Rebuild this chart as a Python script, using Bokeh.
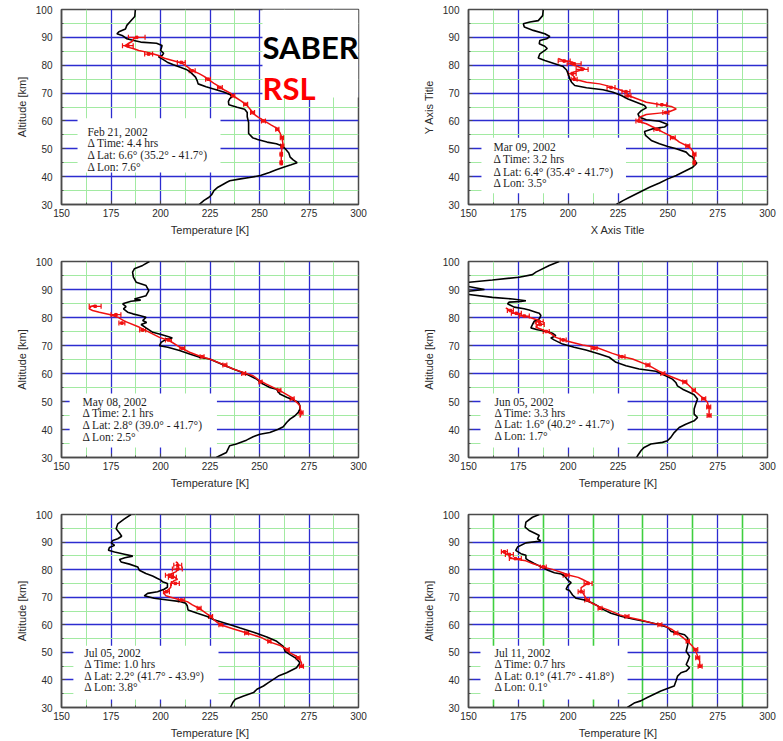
from bokeh.plotting import figure
from bokeh.layouts import column, row
from bokeh.models import FixedTicker, BoxAnnotation, Label, Whisker, ColumnDataSource, TeeHead
from bokeh.embed import file_html
from bokeh.resources import INLINE

# ---------------------------------------------------------------- axes
temp_ticks = [150, 175, 200, 225, 250, 275, 300]
temp_minor = [162.5, 187.5, 212.5, 237.5, 262.5, 287.5]
alt_ticks = [30, 40, 50, 60, 70, 80, 90, 100]
alt_minor = [35, 45, 55, 65, 75, 85, 95]

# ---------------------------------------------------------------- Feb 21, 2002
feb21_saber_alt = [100, 97.5, 95.5, 94.3, 93, 92, 91.3, 90.7, 89.5, 88.9, 88.3, 87.9, 87.1, 86.3, 85.3, 84.3, 83.5, 83,
                   82.2, 81.1, 80.2, 79.3, 78.5, 77.5, 75.7, 74.5, 73.3, 72.3, 71.5, 70.4, 69.5, 68.9, 68, 67, 65.8,
                   64.9, 64.2, 63, 61.5, 59.5, 57.5, 55.5, 54, 53.3, 52.4, 51.8, 51, 50, 48.5, 47, 46, 45, 44.3, 43.5,
                   42.5, 41.5, 40.4, 39.7, 39.2, 38.5, 38, 37.2, 36.2, 35, 33.5, 32.6, 31.5, 30]
feb21_saber_temp = [187.3, 187, 184.5, 183, 182.3, 179, 178, 180.6, 183, 186.5, 190, 198, 200.8, 200.5, 200, 201.6,
                    200.8, 199, 201, 203.4, 206.5, 210, 213, 215.1, 217.7, 218.5, 219, 223, 226.8, 231.9, 235, 236.5,
                    235, 234.3, 234.5, 238.7, 242.5, 243.8, 243.8, 244.5, 244.5, 244.5, 246.5, 249, 253.8, 258.5,
                    261.5, 263, 264.8, 265.5, 267, 269, 266, 262.5, 258.5, 255, 250.5, 245, 240.4, 235, 233.5, 231.5,
                    229, 227, 225.8, 224.5, 222, 219.5]
feb21_rsl_alt = [44, 46, 48, 50, 52, 54, 55.5, 57.2, 58.5, 60.2, 61.3, 62.5, 64, 65.5, 67, 68.5, 70, 71, 72.1, 73.5,
                 74.8, 76, 77, 78.1, 79.2, 80.7, 81.5, 82.5, 83.5, 84.1, 84.7, 85.3, 85.9, 86.5, 87, 87.7, 88.5, 89.5,
                 90]
feb21_rsl_temp = [261, 261, 261, 261.3, 261.8, 261.3, 260.5, 259.1, 256, 252, 249.5, 247, 245.5, 243.7, 241, 237.8,
                  235.3, 232.5, 230.2, 227, 224.3, 222, 219.5, 216, 214, 211, 207, 202, 199, 196, 193, 189, 186.5,
                  183.5, 182, 183.5, 185.6, 186.5, 188]
feb21_bar_alt = [45, 48, 51, 54, 57, 60, 63, 66, 69, 72, 75, 78, 81, 84, 87, 90]
feb21_bar_temp = [261, 261, 261.5, 261.3, 259, 252, 246.5, 243, 236.5, 230, 224, 216, 210.5, 194, 183.5, 188]
feb21_bar_err = [0.6, 0.6, 0.8, 0.8, 0.8, 1, 1, 1, 1, 1.2, 1.2, 1.5, 2, 2, 2.7, 4.2]
feb21_notes = ["Feb 21, 2002", "\u0394 Time: 4.4 hrs", "\u0394 Lat: 6.6\u00b0 (35.2\u00b0 - 41.7\u00b0)",
               "\u0394 Lon: 7.6\u00b0"]

# ---------------------------------------------------------------- Mar 09, 2002
mar09_saber_alt = [100, 97.8, 96, 95.5, 94.9, 93.7, 92.5, 91.3, 90.3, 89.5, 88.9, 87.7, 86.8, 86, 85.3, 84.1, 82.6,
                   81.7, 80.7, 79.5, 78.3, 76.9, 75.1, 73.9, 72.7, 71.9, 71.2, 70.3, 69.1, 67.9, 66.7, 65.5, 64.7,
                   63.7, 62.5, 61.3, 60.4, 59.9, 58.7, 57.8, 57.2, 56.2, 54.8, 53, 51.8, 50.8, 50, 48.8, 47.6, 47,
                   45.8, 44.8, 43.4, 42.2, 40.4, 39.2, 37.7, 36.2, 34.4, 32.6, 31.4, 30]
mar09_saber_temp = [187.5, 187.2, 185, 180.8, 177.5, 178, 182.5, 188.3, 190.8, 189.2, 185.8, 185.5, 188.3, 189.5,
                    188.3, 185.8, 185, 188.3, 192.5, 197.5, 199.2, 200, 200.8, 201.7, 203.3, 209.2, 217.5, 222.5,
                    226.7, 230, 234.2, 238.3, 239.2, 236.7, 235, 235.8, 239.2, 245.8, 250, 248.3, 242.5, 238.3,
                    238.8, 241.7, 245.8, 250, 254.2, 259.2, 260.8, 262.5, 263.3, 264.5, 262.5, 259.2, 254.2, 250,
                    245.8, 240.8, 235.8, 230.8, 227.5, 224.2]
mar09_rsl_alt = [44, 47, 48.2, 50, 50.9, 52.4, 54.2, 56, 57.2, 59, 59.9, 61.3, 62.3, 62.8, 63.1, 64.3, 65.2, 65.9,
                 66.7, 68.5, 69.1, 70.3, 71.2, 72.4, 73.3, 73.9, 74.5, 74.8, 75.7, 76.7, 77.5, 78.1, 78.7, 79.3, 79.9,
                 80.5, 81.1, 81.7, 82.4]
mar09_rsl_temp = [263.3, 263.3, 263.3, 261.7, 260, 255.8, 252.5, 247.5, 244.2, 239.2, 235, 235.8, 239.2, 245.8, 250,
                  254.2, 251.7, 245.8, 239.2, 232.5, 230, 229.2, 225.8, 220.8, 215.8, 209.2, 205.8, 202.5, 203.3,
                  201.7, 202.5, 205.8, 208.3, 205.8, 203.3, 200.8, 202.5, 197.5, 195]
mar09_bar_alt = [45, 48, 51, 54, 57, 60, 63, 65.8, 69, 70.5, 72, 75, 77, 78.5, 80.5, 81.5]
mar09_bar_temp = [263.3, 263.3, 260, 252.5, 244.5, 235.5, 249, 247, 230, 229, 221.5, 203, 202, 207, 203, 198]
mar09_bar_err = [0.6, 0.8, 1, 1.2, 1.5, 1.5, 1.5, 2.5, 1.5, 2, 2, 1.5, 2, 3, 3.5, 3]
mar09_notes = ["Mar 09, 2002", "\u0394 Time: 3.2 hrs", "\u0394 Lat: 6.4\u00b0 (35.4\u00b0 - 41.7\u00b0)",
               "\u0394 Lon: 3.5\u00b0"]

# ---------------------------------------------------------------- May 08, 2002
may08_saber_alt = [100, 98.6, 97.4, 96.2, 94.4, 92.6, 91.4, 89.6, 87.8, 86.6, 86.2, 85.8, 84.9, 83.9, 83.1, 81.9,
                   81.3, 80.7, 80.1, 78.9, 78.2, 77.5, 76.3, 74.7, 73.9, 73.2, 72.7, 72.3, 71.1, 69.9, 69.4, 68.2, 67,
                   65.8, 65.2, 63.4, 61.6, 59.8, 58, 56.2, 55, 54.4, 52.7, 51.5, 50.5, 49.7, 48.5, 47.3, 46.1, 44.9,
                   43.7, 42.5, 41, 40.1, 38.9, 38.3, 37.4, 36.2, 34.8, 34.2, 33, 31.8, 30.6, 30]
may08_saber_temp = [194.4, 191, 186.8, 185.9, 186.3, 187.7, 192.7, 194.1, 192.7, 186.8, 190, 185.1, 180.9, 182.6,
                    181.3, 183.4, 186, 189.4, 192.7, 191, 193, 190.2, 192.7, 196.1, 200.3, 203.7, 206, 202.9, 200.3,
                    199.5, 203.7, 209.6, 214.7, 219.8, 224.8, 230.7, 236.7, 243.4, 248.5, 251.9, 255.2, 258.6,
                    260.3, 263.7, 267.1, 269.6, 270.4, 270.4, 269.6, 267.9, 265.4, 263.7, 262, 259.5, 255.2, 250.2,
                    246.8, 243.4, 238.3, 234.9, 234.1, 233.3, 229.9, 228.2]
may08_rsl_alt = [44.3, 46.1, 47.3, 48.5, 49.7, 51.5, 53.9, 56.2, 57.4, 59.2, 60.4, 61.6, 63, 65.2, 66, 67.6, 69.1,
                 71.7, 72.9, 75.3, 76.5, 78.7, 80.1, 81.1, 81.9, 82.5, 83.1, 83.9, 84.3]
may08_rsl_temp = [270.4, 271.3, 270.6, 270.4, 268.8, 266.2, 260.3, 253.5, 250.2, 246.8, 241.7, 236.7, 232.4, 224.8,
                  220.6, 214.7, 210.5, 204.6, 199.5, 192.7, 189.4, 181.8, 178.4, 174.2, 169.1, 165.7, 164, 164.9,
                  166.6]
may08_bar_alt = [46, 51, 54, 57, 60, 63, 66, 69, 72, 75.5, 78, 81, 84]
may08_bar_temp = [271, 266.5, 260, 250.5, 242, 232.5, 221, 211, 204, 191, 180.5, 177.5, 167]
may08_bar_err = [1, 1, 0.8, 0.8, 1, 1, 1, 1.2, 1.5, 1.5, 1.5, 2.5, 3]
may08_notes = ["May 08, 2002", "\u0394 Time: 2.1 hrs", "\u0394 Lat: 2.8\u00b0 (39.0\u00b0 - 41.7\u00b0)",
               "\u0394 Lon: 2.5\u00b0"]

# ---------------------------------------------------------------- Jun 05, 2002
jun05_saber_alt = [100, 98.6, 96.2, 95.3, 94.4, 93.4, 92.6, 92, 91.1, 90, 89.4, 88.8, 88.2, 87.2, 86.6, 86, 85.7,
                   85.5, 84.9, 83.7, 83.1, 82.7, 81.9, 81.5, 80.7, 79.5, 78.7, 77.5, 76.3, 75.6, 75.1, 74.4, 73.5,
                   72.7, 72, 70.5, 69.4, 68.4, 67, 65.8, 64, 62.8, 61.6, 60.8, 59.2, 58, 56.8, 55.6, 54.4, 53.3,
                   52.4, 50.9, 49.1, 47.3, 45.5, 44.3, 43.1, 41.9, 40.7, 38.9, 37.2, 36, 35.4, 34.8, 33.6, 32.4,
                   30.6, 30]
jun05_saber_temp = [195.5, 190.5, 183.8, 182.1, 175.4, 162, 150.3, 142, 150, 158, 150, 142, 150.3, 162, 172.1, 178.8,
                    176.3, 170.4, 169.6, 172.9, 177.9, 180.4, 183.8, 185.5, 186.3, 185.5, 183, 182.1, 181.3, 184.6,
                    188.8, 192.1, 193.8, 191.3, 192.9, 197.2, 203, 208.9, 215.6, 220.6, 224, 229, 235.6, 244,
                    248.9, 252.3, 254, 254.8, 257.4, 260.7, 263.2, 264.9, 264, 263.2, 263.2, 264.9, 263.2, 259,
                    255.7, 253.2, 251.5, 249.8, 247.3, 241.5, 238.1, 236.5, 234.8, 234.3]
jun05_rsl_alt = [44.3, 47.3, 49.7, 50.9, 53.9, 56.8, 58.5, 60.1, 62.8, 65.2, 66, 67.2, 69.4, 70.2, 71.7, 72.9, 74.7,
                 75.6, 76.5, 77.7, 78.9, 80.1, 80.7, 81.3, 81.9, 82.5, 83.1, 83.4]
jun05_rsl_temp = [270.7, 270.7, 269.9, 268.2, 263.2, 259, 253, 247.3, 240.6, 232.3, 227.3, 222.2, 213.9, 207.2,
                  198.8, 193.8, 190.5, 187.1, 183.8, 185.5, 185.5, 180.4, 177.1, 173.7, 172.1, 170.4, 169.6, 168.7]
jun05_bar_alt = [45, 48, 51, 54, 57, 60, 63, 66, 69, 72, 75, 77.5, 78.5, 80.5, 81.5, 82.5]
jun05_bar_temp = [270.7, 270.5, 268, 263, 258.5, 247.5, 240, 227, 213, 197.5, 189, 186, 185.5, 178, 174, 171]
jun05_bar_err = [1, 1, 1, 0.8, 1, 1, 1, 1.5, 1.5, 1.5, 1.5, 2, 2, 2.5, 2.5, 1.5]
jun05_notes = ["Jun 05, 2002", "\u0394 Time: 3.3 hrs", "\u0394 Lat: 1.6\u00b0 (40.2\u00b0 - 41.7\u00b0)",
               "\u0394 Lon: 1.7\u00b0"]

# ---------------------------------------------------------------- Jul 05, 2002
jul05_saber_alt = [100, 98.4, 96.6, 94.8, 93.3, 92.1, 91.2, 90.6, 89.7, 88.8, 88, 87, 86.4, 85.6, 84.9, 84.3, 83.7,
                   82.8, 82, 81, 79.8, 78.6, 77.7, 76.8, 76.2, 75.6, 75, 73.6, 72.9, 72, 71.4, 70.5, 69.6, 69, 68.4,
                   67.8, 66.9, 65.4, 64.2, 63, 61.8, 60.4, 58.8, 57.3, 55.6, 54, 52.2, 50.4, 49.2, 47.7, 46.2, 44.4,
                   42.6, 41.4, 39, 37.8, 36.6, 35.4, 34.2, 33, 31.8, 30]
jul05_saber_temp = [185.1, 181.8, 178.4, 177.6, 179.3, 180.4, 178.4, 175.9, 175.1, 176.8, 174.2, 173.7, 176.8, 181.8,
                    186, 182, 179.3, 180.1, 184.3, 188.5, 189.3, 192.6, 196, 198.5, 200.2, 201, 203.5, 203.5, 201.8,
                    198.5, 193.5, 191.8, 196.8, 203.5, 210.2, 212.7, 213.5, 213.9, 218.6, 223.6, 227, 233.6, 240.3,
                    247, 253.7, 258.7, 262, 262.9, 265.4, 268.7, 270.4, 268.7, 263.7, 259.5, 254.5, 252, 248.7, 247,
                    242, 237.8, 236.5, 235.3]
jul05_rsl_alt = [44.4, 46.2, 47.4, 48.6, 49.8, 51, 52.5, 53.7, 55.6, 57, 58.5, 60, 61.8, 63, 64.8, 66, 67.2, 68.4,
                 69, 70, 70.5, 71.4, 72.4, 73.6, 75, 76, 76.5, 77.4, 78.4, 79.2, 80.4, 81.6, 82.5, 82.8]
jul05_rsl_temp = [271.2, 271.2, 270.4, 268.7, 265.4, 263.7, 260.4, 255.4, 250.3, 243.6, 236.9, 230.3, 227, 225.3,
                  221.9, 219.4, 216.1, 213.5, 210.2, 205.2, 202.7, 201.8, 203.5, 205.2, 205.2, 206.9, 208.6, 206.9,
                  205.2, 207.7, 209.4, 208.6, 208.6, 207.7]
jul05_bar_alt = [45, 48, 51, 54, 57, 60, 63, 66, 69, 72, 75, 77.2, 78, 80.2, 81.6]
jul05_bar_temp = [271.2, 269.5, 264, 255, 243.5, 230.5, 225.3, 219.5, 210.5, 203, 207.5, 206, 204.5, 208.5, 208.7]
jul05_bar_err = [1, 1, 1, 0.8, 1, 1, 1, 1, 1.5, 1.5, 2, 2, 2, 2.5, 2]
jul05_notes = ["Jul 05, 2002", "\u0394 Time: 1.0 hrs", "\u0394 Lat: 2.2\u00b0 (41.7\u00b0 - 43.9\u00b0)",
               "\u0394 Lon: 3.8\u00b0"]

# ---------------------------------------------------------------- Jul 11, 2002
jul11_saber_alt = [100, 99, 97.2, 95.4, 94.2, 93, 92.4, 91.2, 90.4, 89.7, 88.2, 87, 85.8, 85.2, 84, 83.2, 82.2, 81,
                   79.8, 78.9, 78.4, 77.7, 76.2, 75.3, 74.1, 72.9, 72.4, 70.8, 69.6, 69, 68.1, 67.2, 65.4, 64.2, 63,
                   62, 61, 60, 59, 57.6, 57, 56.4, 55.2, 52.8, 50.4, 48.6, 46.8, 45.6, 44.4, 43.2, 42.6, 41.4, 39.6,
                   37.8, 36.9, 36, 34.8, 33.6, 32.4, 31.6, 30]
jul11_saber_temp = [185.5, 182.1, 178.8, 178.4, 180.4, 183.8, 185.5, 184.6, 186.3, 178.8, 174.6, 173.7, 176.3, 178.8,
                    178.8, 180.4, 183, 186.5, 189.8, 193.1, 196.5, 198.2, 199.8, 201.5, 199.8, 199, 200.7, 202.2,
                    204, 208.2, 211.5, 214, 218, 221.5, 227, 233, 240, 246, 250, 251.7, 255, 258.4, 260, 260, 259.2,
                    260.9, 260, 259.2, 260.9, 259.2, 256.6, 254.9, 254.1, 253.2, 249.8, 246.5, 243.1, 239.7, 236.4,
                    233.1, 229.7]
jul11_rsl_alt = [44.4, 46.8, 48.6, 50.4, 52.2, 54, 56.4, 58.2, 59.7, 60.6, 61.8, 62.8, 63.6, 65.4, 66.6, 67.8, 69,
                 70.2, 71.4, 72.6, 73.5, 74.4, 75.3, 75.8, 76.5, 77.2, 78, 78.9, 80.1, 81, 82.2, 83.2, 83.7, 84,
                 84.6, 85.6, 85.8, 86.4, 86.6]
jul11_rsl_temp = [266, 266, 265, 264, 262.4, 259.9, 255.7, 252.3, 248.2, 242.3, 236, 229.5, 226, 220, 215.5, 212,
                  209.5, 208.5, 207.5, 206.5, 206.5, 208.5, 210.5, 209, 207, 205, 200.5, 197.2, 192.1, 187.1, 182.1,
                  178.8, 174.6, 172.4, 170.4, 171.2, 168.7, 167.1, 168.7]
jul11_bar_alt = [45, 48, 51, 54, 57, 60, 63, 66, 69, 72, 75, 78, 81, 84, 85.5, 86.5]
jul11_bar_temp = [266.2, 265, 264, 260, 254, 246, 229.5, 216, 209.5, 206.5, 210, 199, 187.5, 173.5, 170.5, 168]
jul11_bar_err = [1, 1, 1, 0.8, 1, 1, 1, 1, 1.2, 1.5, 2, 1.5, 1.5, 3, 2, 1.5]
jul11_notes = ["Jul 11, 2002", "\u0394 Time: 0.7 hrs", "\u0394 Lat: 0.1\u00b0 (41.7\u00b0 - 41.8\u00b0)",
               "\u0394 Lon: 0.1\u00b0"]

# ---------------------------------------------------------------- styling
BLUE = "#2c2cd0"
GREEN = "#a2eaa2"
GREEN_STRONG = "#3fcf3f"
RED = "#f01010"
FRAME = "#4a4a4a"
TEXT = "#2b2b2b"


def make_panel(width, height, borders, xlabel, ylabel, saber, rsl, bars, notes,
               box, note_x, note_y, strong_green=False):
    left, right, top, bottom = borders
    p = figure(width=width, height=height, x_range=(150, 300), y_range=(30, 100),
               output_backend="svg", toolbar_location=None,
               min_border_left=left, min_border_right=right,
               min_border_top=top, min_border_bottom=bottom,
               background_fill_color="white", border_fill_color="white")
    xt = FixedTicker(ticks=temp_ticks, minor_ticks=temp_minor)
    yt = FixedTicker(ticks=alt_ticks, minor_ticks=alt_minor)
    p.xaxis.ticker = xt
    p.yaxis.ticker = yt
    p.xgrid.ticker = xt
    p.ygrid.ticker = yt
    for g in (p.xgrid, p.ygrid):
        g.grid_line_color = BLUE
        g.grid_line_width = 1.3
        g.minor_grid_line_color = GREEN
        g.minor_grid_line_width = 1
    if strong_green:
        p.xgrid.minor_grid_line_color = GREEN_STRONG
        p.xgrid.minor_grid_line_width = 1.6

    p.outline_line_color = FRAME
    p.outline_line_width = 1.5
    for ax in p.axis:
        ax.axis_line_color = FRAME
        ax.axis_line_width = 1.5
        ax.major_tick_in = 4
        ax.major_tick_out = 0
        ax.minor_tick_in = 2
        ax.minor_tick_out = 0
        ax.major_tick_line_color = FRAME
        ax.minor_tick_line_color = FRAME
        ax.major_label_text_font = "Liberation Sans"
        ax.major_label_text_font_size = "10px"
        ax.major_label_text_color = TEXT
        ax.axis_label_text_font = "Liberation Sans"
        ax.axis_label_text_font_size = "11px"
        ax.axis_label_text_font_style = "normal"
        ax.axis_label_text_color = TEXT
    p.xaxis.axis_label = xlabel
    p.yaxis.axis_label = ylabel
    p.xaxis.major_label_standoff = 4
    p.xaxis.axis_label_standoff = 4
    p.yaxis.major_label_standoff = 9
    p.yaxis.axis_label_standoff = 5

    # satellite profile
    p.line(saber[1], saber[0], line_color="black", line_width=1.6)
    # lidar profile with uncertainty bars
    p.line(rsl[1], rsl[0], line_color=RED, line_width=1.5)
    b_alt, b_temp, b_err = bars
    src = ColumnDataSource(dict(alt=b_alt, temp=b_temp,
                                lo=[t - e for t, e in zip(b_temp, b_err)],
                                hi=[t + e for t, e in zip(b_temp, b_err)]))
    p.add_layout(Whisker(base="alt", lower="lo", upper="hi", dimension="width", source=src,
                         line_color=RED, line_width=1.2,
                         upper_head=TeeHead(size=5, line_color=RED, line_width=1.2),
                         lower_head=TeeHead(size=5, line_color=RED, line_width=1.2)))
    p.scatter("temp", "alt", source=src, size=2.5, color=RED, marker="square")

    # annotation box
    bl, br, bt, bb = box
    p.add_layout(BoxAnnotation(left=bl, right=br, top=bt, bottom=bb,
                               fill_color="white", fill_alpha=1, line_color=None))
    for txt, y in zip(notes, note_y):
        p.add_layout(Label(x=note_x, y=y, text=txt, text_font="Liberation Serif",
                           text_font_size="11.5px", text_baseline="middle", text_color="#1e1e1e"))
    return p


LEFT_W, RIGHT_W = 392, 391
p1 = make_panel(LEFT_W, 250, (61, 34, 9, 46), "Temperature [K]", "Altitude [km]",
                (feb21_saber_alt, feb21_saber_temp), (feb21_rsl_alt, feb21_rsl_temp),
                (feb21_bar_alt, feb21_bar_temp, feb21_bar_err), feb21_notes,
                (158.1, 230.3, 61.0, 41.5), 163.1, [56.2, 51.9, 47.6, 43.6])
p2 = make_panel(RIGHT_W, 250, (76, 16, 9, 46), "X Axis Title", "Y Axis Title",
                (mar09_saber_alt, mar09_saber_temp), (mar09_rsl_alt, mar09_rsl_temp),
                (mar09_bar_alt, mar09_bar_temp, mar09_bar_err), mar09_notes,
                (156.5, 229.0, 54.0, 34.0), 162.5, [50.5, 46.2, 41.8, 37.6])
p3 = make_panel(LEFT_W, 250, (61, 34, 11, 43), "Temperature [K]", "Altitude [km]",
                (may08_saber_alt, may08_saber_temp), (may08_rsl_alt, may08_rsl_temp),
                (may08_bar_alt, may08_bar_temp, may08_bar_err), may08_notes,
                (154.1, 228.5, 52.9, 33.6), 160.6, [50.0, 45.8, 41.7, 37.5])
p4 = make_panel(RIGHT_W, 250, (76, 16, 11, 43), "Temperature [K]", "Altitude [km]",
                (jun05_saber_alt, jun05_saber_temp), (jun05_rsl_alt, jun05_rsl_temp),
                (jun05_bar_alt, jun05_bar_temp, jun05_bar_err), jun05_notes,
                (156.0, 229.8, 52.9, 33.6), 163.0, [50.0, 46.0, 41.8, 37.8])
p5 = make_panel(LEFT_W, 241, (61, 34, 14, 33), "Temperature [K]", "Altitude [km]",
                (jul05_saber_alt, jul05_saber_temp), (jul05_rsl_alt, jul05_rsl_temp),
                (jul05_bar_alt, jul05_bar_temp, jul05_bar_err), jul05_notes,
                (156.0, 229.3, 52.4, 32.9), 161.5, [49.8, 45.9, 41.6, 37.3])
p6 = make_panel(RIGHT_W, 241, (76, 16, 14, 33), "Temperature [K]", "Altitude [km]",
                (jul11_saber_alt, jul11_saber_temp), (jul11_rsl_alt, jul11_rsl_temp),
                (jul11_bar_alt, jul11_bar_temp, jul11_bar_err), jul11_notes,
                (156.0, 229.8, 52.4, 32.9), 163.0, [49.8, 45.9, 41.6, 37.3], strong_green=True)

# instrument legend in the first panel
p1.add_layout(BoxAnnotation(left=251.5, top=100, bottom=68.4, fill_color="white", fill_alpha=1, line_color=None))
p1.add_layout(Label(x=251.5, y=86.6, text="SABER", text_font="Lato", text_font_style="bold",
                    text_font_size="31px", text_baseline="alphabetic", text_color="black"))
p1.add_layout(Label(x=251.5, y=71.8, text="RSL", text_font="Lato", text_font_style="bold",
                    text_font_size="31px", text_baseline="alphabetic", text_color="#ff0000"))

layout = column(row(p1, p2), row(p3, p4), row(p5, p6))
open("out.html", "w").write(file_html(layout, INLINE))
